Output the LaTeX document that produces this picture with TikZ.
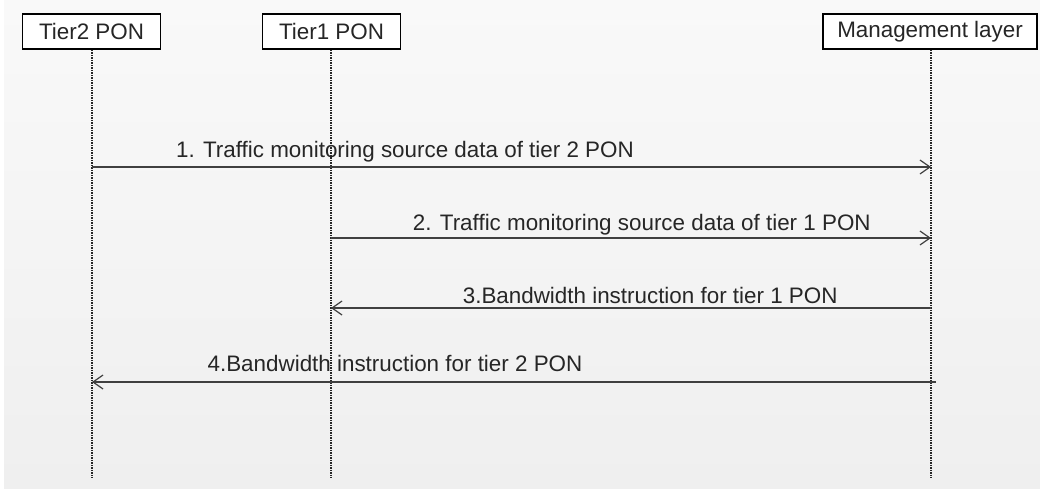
\documentclass[tikz,border=0pt]{standalone}
\usepackage{fontspec}
\setmainfont{Liberation Sans}
\usetikzlibrary{arrows.meta}
\definecolor{linegray}{HTML}{404040}
\definecolor{bgtop}{HTML}{F9F9F9}
\definecolor{bgbot}{HTML}{EFEFEF}
\begin{document}
\begin{tikzpicture}[x=1pt,y=-1pt,
  actor/.style={draw=black, line width=1.8pt, fill=white, minimum width=138pt, minimum height=35pt, inner sep=0pt, font=\fontsize{22.4}{24}\selectfont, text=black!85},
  lifeline/.style={draw=black!85, line width=1.3pt, dash pattern=on 1.2pt off 1.3pt},
  msg/.style={draw=linegray, line width=1.4pt, -{Straight Barb[length=10pt,width=14pt,line width=1.2pt]}},
  msglabel/.style={anchor=base, inner sep=0pt, font=\fontsize{22.4}{24}\selectfont, text=black!85}
]
\useasboundingbox (0,0) rectangle (1040,488);
\fill[white] (0,0) rectangle (1040,488);
\shade[top color=bgtop, bottom color=bgbot] (4,0) rectangle (1040,488);

\node[actor] (t2) at (91.5,31.5) {Tier2 PON};
\node[actor] (t1) at (331.5,31.5) {Tier1 PON};
\node[actor, minimum width=214pt] (mg) at (930,31.5) {Management layer};

\coordinate (t2e) at (92,478);
\coordinate (t1e) at (331,478);
\coordinate (mge) at (931,478);
\draw[lifeline] (t2.south -| t2e) -- (t2e);
\draw[lifeline] (t1.south -| t1e) -- (t1e);
\draw[lifeline] (mg.south -| mge) -- (mge);

\coordinate (a1s) at (92,167);  \coordinate (a1e) at (931,167);
\coordinate (a2s) at (331,238); \coordinate (a2e) at (931,238);
\coordinate (a3s) at (931,308); \coordinate (a3e) at (331,308);
\coordinate (a4s) at (936,382); \coordinate (a4e) at (92,382);

\draw[msg] (a1s) -- node[msglabel, pos=0.373, yshift=10pt] (l1) {1. Traffic monitoring source data of tier 2 PON} (a1e);
\draw[msg] (a2s) -- node[msglabel, pos=0.518, yshift=7.5pt] (l2) {2. Traffic monitoring source data of tier 1 PON} (a2e);
\draw[msg] (a3s) -- node[msglabel, pos=0.468, yshift=5pt] (l3) {3.Bandwidth instruction for tier 1 PON} (a3e);
\draw[msg] (a4s) -- node[msglabel, pos=0.641, yshift=11pt] (l4) {4.Bandwidth instruction for tier 2 PON} (a4e);
\end{tikzpicture}
\end{document}
